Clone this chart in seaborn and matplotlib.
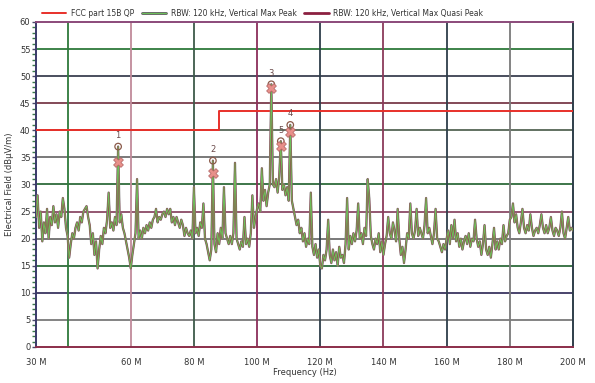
import numpy as np
import pandas as pd
import matplotlib
matplotlib.use("Agg")
import matplotlib.pyplot as plt
import matplotlib.patheffects as pe
from matplotlib.lines import Line2D
from matplotlib.ticker import MultipleLocator
import seaborn as sns

# sweep 30-200 MHz in 0.5 MHz steps, vertical max peak (dBuV/m)
freq_mhz = np.arange(30, 200.5, 0.5)
peak_level = [
    # 30 - 40
    24, 28, 22, 25, 19.5, 23, 21, 25.5, 20, 24, 22.5, 26, 23, 24.5, 22, 25, 24, 27.5, 25.5, 22, 20.5,
    # 40.5 - 50
    16.5, 19, 21, 20, 22, 23, 21.5, 24, 23, 25, 25.5, 26, 24, 22.5, 19, 21, 17, 19.5, 14.5, 18,
    # 50.5 - 60
    20.5, 19, 22, 21, 23.5, 28.5, 22, 23, 21.5, 24, 22.5, 37, 23, 24.5, 22, 21, 19.5, 18, 16.5, 14.5,
    # 60.5 - 70
    17, 19, 21, 31, 20, 21.5, 20, 22, 21, 22.5, 21.5, 23, 22, 23.5, 24, 25.5, 23, 24, 23.5, 24.5,
    # 70.5 - 80
    25, 24, 25.5, 24.5, 25.5, 23, 24, 22.5, 24, 23, 22, 23.5, 22.5, 20.5, 22, 21, 20.5, 21.5, 20, 29.5,
    # 80.5 - 90
    21, 22, 20.5, 23, 22, 26.5, 20, 19, 17.5, 16, 18, 34.4, 19, 17.5, 21, 19, 22, 20, 29.5, 21,
    # 90.5 - 100
    20, 19, 20.5, 19, 21, 34, 20, 19, 18, 19.5, 18.5, 24, 19, 20, 18.5, 21, 28, 22, 24, 25.5,
    # 100.5 - 110
    26.5, 25, 33, 27, 29, 26, 28.5, 30, 48.5, 30, 29.5, 31, 28.5, 31.5, 38, 29, 30, 28, 29.5, 27,
    # 110.5 - 120
    41, 27, 25.5, 24, 22.5, 23.5, 21, 22, 19.5, 21, 18.5, 20, 19, 28.5, 18.5, 17, 19, 16.5, 18, 15,
    # 120.5 - 130
    14.5, 17, 16, 18, 23.5, 17, 15.5, 18, 16, 17.5, 15, 18.5, 16.5, 17, 15.5, 19, 27.5, 18, 20.5, 19,
    # 130.5 - 140
    21, 19.5, 21.5, 26.5, 20, 21, 19, 22, 20.5, 31, 27.5, 20.5, 19, 18, 20, 19, 21, 17.5, 19.5, 17,
    # 140.5 - 150
    19, 20.5, 24, 21, 20, 23, 21.5, 19.5, 25.5, 20, 17, 18.5, 15.5, 18, 21, 20, 26.5, 21, 20, 21.5,
    # 150.5 - 160
    25.5, 20.5, 22, 21, 20, 22.5, 27.5, 21, 22, 20.5, 19, 21, 25.5, 20, 19.5, 18.5, 17.5, 19, 18, 20,
    # 160.5 - 170
    21.5, 19, 22.5, 20, 23.5, 19.5, 21, 18.5, 20, 18, 19.5, 20.5, 19, 21, 18.5, 20, 19.5, 23.5, 20, 18.5,
    # 170.5 - 180
    19.5, 17, 19, 22.5, 18, 17, 18.5, 16.5, 19, 22, 18, 19.5, 18, 20, 19, 22.5, 19.5, 20.5, 21, 23.5,
    # 180.5 - 190
    24, 26.5, 23, 24.5, 22, 21, 23, 25.5, 22, 21, 22.5, 21.5, 24.5, 22, 20.5, 21.5, 22, 21, 22.5, 24.5,
    # 190.5 - 200
    22, 21, 22.5, 21, 22, 24, 21.5, 20.5, 22, 21.5, 20.5, 22, 25, 21, 20, 22, 24, 21.5, 22, 21.5,
]

# FCC part 15 class B quasi-peak limit
limit_freq = [30, 88, 88, 200]
limit_level = [40, 40, 43.5, 43.5]

# marker table
marker_id = ["1", "2", "3", "5", "4"]
marker_freq = [56, 86, 104.5, 107.5, 110.5]
marker_peak = [37.0, 34.4, 48.5, 38.0, 41.0]
marker_qp = [34.2, 32.2, 47.8, 37.1, 39.7]

x_ticks = [30, 60, 80, 100, 120, 140, 160, 180, 200]
x_labels = ["30 M", "60 M", "80 M", "100 M", "120 M", "140 M", "160 M", "180 M", "200 M"]

trace = pd.DataFrame({"freq": freq_mhz, "level": peak_level})
markers = pd.DataFrame({"id": marker_id, "freq": marker_freq,
                        "peak": marker_peak, "qp": marker_qp})

sns.set_theme(style="white")
plt.rcParams["font.family"] = ["DejaVu Sans"]
plt.rcParams["font.size"] = 6

fig = plt.figure(figsize=(5.95, 3.83), dpi=100)
ax = fig.add_axes([0.0605, 0.094, 0.9025, 0.8486])

# coloured grid lines
h_grid = {5: "#7a7a7a", 10: "#3a3560", 15: "#2e6b3a", 20: "#6e6e6e", 25: "#8b4a66",
          30: "#2e6b3a", 35: "#6e6e6e", 40: "#556655", 45: "#7a3a4a", 50: "#3a4050",
          55: "#2e7a3a"}
for y, c in h_grid.items():
    ax.axhline(y, color=c, lw=1.3, zorder=1)
v_grid = {40: "#2e7a3a", 60: "#c08a9a", 80: "#3e5a4a", 100: "#8b2e5a", 120: "#2e3e4a",
          140: "#8b3a5a", 160: "#2e3e4a", 180: "#7a7a7a"}
for x, c in v_grid.items():
    ax.axvline(x, color=c, lw=1.3, zorder=1)

ax.plot(limit_freq, limit_level, color="#e8302a", lw=1.4, zorder=3)

sns.lineplot(data=trace, x="freq", y="level", ax=ax, color="#6cbf5a", lw=0.7,
             zorder=4, estimator=None,
             path_effects=[pe.Stroke(linewidth=1.7, foreground="#8a8a8a"),
                           pe.Stroke(linewidth=1.2, foreground="#9b3448"),
                           pe.Normal()])

sns.scatterplot(data=markers, x="freq", y="peak", ax=ax, marker="o", s=22,
                facecolor="none", edgecolor="#8b5a4a", linewidth=0.9, zorder=6)
sns.scatterplot(data=markers, x="freq", y="qp", ax=ax, marker="X", s=50,
                color="#e8908a", edgecolor="#b06060", linewidth=0.5, zorder=6)
for _, r in markers.iterrows():
    ax.text(r["freq"], r["peak"] + 1.2, r["id"], ha="center", va="bottom",
            fontsize=6, color="#6a4a4a", zorder=7)

ax.set_xlim(30, 200)
ax.set_ylim(0, 60)
ax.set_xticks(x_ticks)
ax.set_xticklabels(x_labels)
ax.set_yticks(range(0, 61, 5))
ax.yaxis.set_minor_locator(MultipleLocator(1))
ax.tick_params(axis="y", which="major", left=True, length=3, width=1, color="#4a4a6a",
               pad=1, labelsize=6, labelcolor="#333333")
ax.tick_params(axis="y", which="minor", left=True, length=3, width=1, color="#3a7a4a")
ax.tick_params(axis="x", which="major", bottom=False, pad=2, labelsize=6,
               labelcolor="#333333")

for side, c in {"left": "#3a3a6a", "bottom": "#8b2e4a", "top": "#8b4a7a",
                "right": "#2e3e4a"}.items():
    ax.spines[side].set_color(c)
    ax.spines[side].set_linewidth(1.4)

ax.set_xlabel("Frequency (Hz)", fontsize=6, color="#333333")
ax.xaxis.set_label_coords(0.5, -0.064)
ax.set_ylabel("Electrical Field (dBµV/m)", fontsize=6, color="#333333", labelpad=4)

handles = [
    Line2D([], [], color="#e8302a", lw=1.4),
    Line2D([], [], color="#6cbf5a", lw=0.8,
           path_effects=[pe.Stroke(linewidth=2.0, foreground="#5a5a5a"), pe.Normal()]),
    Line2D([], [], color="#8b2040", lw=2.0),
]
labels = ["FCC part 15B QP", "RBW: 120 kHz, Vertical Max Peak",
          "RBW: 120 kHz, Vertical Max Quasi Peak"]
fig.legend(handles, labels, loc="center left", bbox_to_anchor=(0.065, 0.966), ncol=3,
           frameon=False, fontsize=5.5, handlelength=3.2, columnspacing=1.0,
           handletextpad=0.6, labelcolor="#333333", borderaxespad=0)

fig.savefig("out.png", dpi=100)
